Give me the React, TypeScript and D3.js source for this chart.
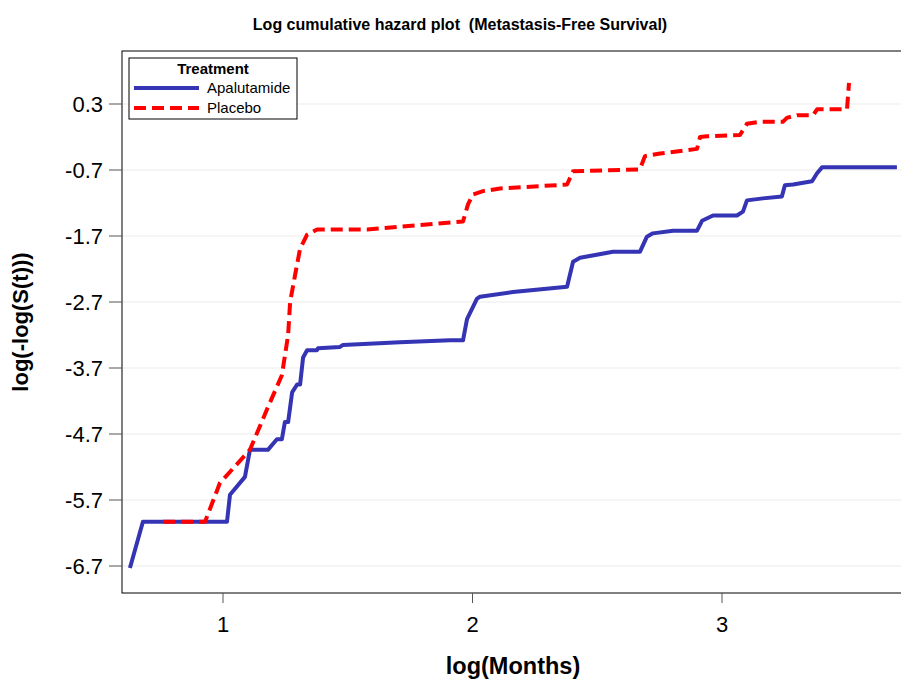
import React from 'react';
import * as d3 from 'd3';

// log(Months) vs log(-log(S(t)))
const apalutamide: [number, number][] = [
  [0.627, -6.73], [0.679, -6.03], [1.016, -6.03], [1.028, -5.62], [1.088, -5.35],
  [1.108, -4.94], [1.18, -4.94], [1.216, -4.78], [1.236, -4.78], [1.248, -4.52],
  [1.261, -4.52], [1.277, -4.07], [1.297, -3.95], [1.309, -3.95], [1.321, -3.54],
  [1.337, -3.43], [1.377, -3.43], [1.381, -3.4], [1.469, -3.38], [1.481, -3.35],
  [1.709, -3.31], [1.91, -3.28], [1.962, -3.28], [1.978, -2.96], [2.018, -2.65],
  [2.03, -2.62], [2.162, -2.55], [2.379, -2.47], [2.403, -2.09], [2.431, -2.03],
  [2.563, -1.94], [2.671, -1.94], [2.699, -1.71], [2.723, -1.66], [2.804, -1.62],
  [2.9, -1.62], [2.92, -1.47], [2.964, -1.39], [3.06, -1.39], [3.084, -1.33],
  [3.1, -1.16], [3.164, -1.13], [3.24, -1.1], [3.252, -0.93], [3.285, -0.92],
  [3.361, -0.87], [3.381, -0.75], [3.401, -0.66], [3.701, -0.66],
];

const placebo: [number, number][] = [
  [0.76, -6.03], [0.928, -6.03], [0.988, -5.44], [1.108, -4.94], [1.176, -4.33],
  [1.236, -3.81], [1.261, -3.2], [1.269, -2.7], [1.289, -2.29], [1.309, -1.89],
  [1.337, -1.68], [1.377, -1.6], [1.577, -1.6], [1.709, -1.56], [1.962, -1.48],
  [1.982, -1.22], [2.002, -1.07], [2.042, -1.02], [2.11, -0.98], [2.379, -0.92],
  [2.403, -0.72], [2.671, -0.69], [2.691, -0.49], [2.752, -0.45], [2.9, -0.38],
  [2.912, -0.2], [2.94, -0.19], [3.072, -0.17], [3.1, 0.0], [3.152, 0.03],
  [3.244, 0.03], [3.26, 0.09], [3.301, 0.13], [3.365, 0.13], [3.381, 0.22],
  [3.501, 0.22], [3.509, 0.62],
];

const yTicks = [0.3, -0.7, -1.7, -2.7, -3.7, -4.7, -5.7, -6.7];
const xTicks = [1, 2, 3];

const series = [
  { name: 'Apalutamide', data: apalutamide, color: '#3434b4', dash: undefined as string | undefined },
  { name: 'Placebo', data: placebo, color: '#ff0000', dash: '12 6' },
];

const W = 901;
const H = 679;
const frame = { left: 122, top: 51, right: 905, bottom: 593 };

export default function App() {
  const x = d3.scaleLinear().domain([1, 3]).range([223, 722]);
  const y = d3.scaleLinear().domain([0.3, -6.7]).range([104, 566]);

  const line = d3.line<[number, number]>()
    .x(d => x(d[0]))
    .y(d => y(d[1]));

  const font = "'Liberation Sans', Arial, sans-serif";

  return (
    <div style={{ position: 'absolute', left: 0, top: 0 }}>
      <svg width={W} height={H} style={{ display: 'block', background: '#fff' }} fontFamily={font}>
        <text x={460} y={30} textAnchor="middle" fontSize={16} fontWeight="bold" style={{ whiteSpace: 'pre' }}>
          {'Log cumulative hazard plot  (Metastasis-Free Survival)'}
        </text>

        <defs>
          <clipPath id="plotClip">
            <rect x={frame.left} y={frame.top} width={frame.right - frame.left} height={frame.bottom - frame.top} />
          </clipPath>
        </defs>

        {/* grid */}
        {yTicks.map(t => (
          <line key={t} x1={frame.left} x2={frame.right} y1={y(t)} y2={y(t)} stroke="#ebebeb" strokeWidth={1} />
        ))}

        {/* curves */}
        <g clipPath="url(#plotClip)">
          {series.map(s => (
            <path key={s.name} d={line(s.data) ?? ''} fill="none" stroke={s.color}
              strokeWidth={4} strokeDasharray={s.dash} strokeLinejoin="round" />
          ))}
        </g>

        {/* frame */}
        <rect x={frame.left} y={frame.top} width={frame.right - frame.left} height={frame.bottom - frame.top}
          fill="none" stroke="#000" strokeWidth={1} />

        {/* y axis */}
        {yTicks.map(t => (
          <g key={t}>
            <line x1={frame.left - 13} x2={frame.left} y1={y(t)} y2={y(t)} stroke="#555" />
            <text x={103} y={y(t)} dy="0.36em" textAnchor="end" fontSize={22}>{t.toFixed(1)}</text>
          </g>
        ))}
        <text transform={`translate(28, 322) rotate(-90)`} textAnchor="middle" fontSize={22} fontWeight="bold">
          log(-log(S(t)))
        </text>

        {/* x axis */}
        {xTicks.map(t => (
          <g key={t}>
            <line x1={x(t)} x2={x(t)} y1={frame.bottom} y2={frame.bottom + 10} stroke="#555" />
            <text x={x(t)} y={632} textAnchor="middle" fontSize={22}>{t}</text>
          </g>
        ))}
        <text x={513} y={674} textAnchor="middle" fontSize={23.5} fontWeight="bold">log(Months)</text>

        {/* legend */}
        <g>
          <rect x={129} y={58} width={168} height={61} fill="#fff" stroke="#000" strokeWidth={1} />
          <text x={213} y={74} textAnchor="middle" fontSize={15} fontWeight="bold">Treatment</text>
          {series.map((s, i) => (
            <g key={s.name}>
              <line x1={134} x2={199} y1={88 + i * 20} y2={88 + i * 20} stroke={s.color} strokeWidth={4}
                strokeDasharray={s.dash} />
              <text x={207} y={88 + i * 20} dy="0.35em" fontSize={15}>{s.name}</text>
            </g>
          ))}
        </g>
      </svg>
    </div>
  );
}
